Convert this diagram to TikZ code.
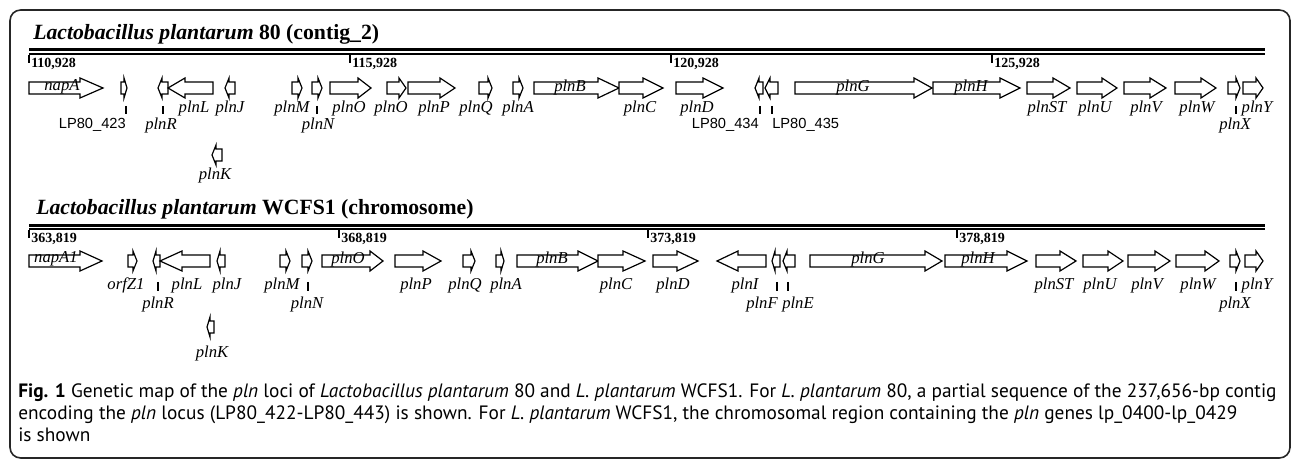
\documentclass[tikz,border=0pt]{standalone}
\usepackage{fontspec}
\setmainfont{Liberation Serif}
\newfontfamily\lpfont{Liberation Sans}
\newfontfamily\capfont{PT Sans}
\usetikzlibrary{positioning}

% gene arrow: tail x, tip x, centre y, head length
\newcommand{\gene}[4]{%
  \pgfmathsetmacro{\hb}{#2-#4*sign(#2-#1)}%
  \draw[genearrow] (#1,#3-6) -- (\hb,#3-6) -- (\hb,#3-10) -- (#2,#3)
    -- (\hb,#3+10) -- (\hb,#3+6) -- (#1,#3+6) -- cycle;}

\begin{document}
\begin{tikzpicture}[x=0.75pt, y=-0.75pt,
  genearrow/.style={draw=black, line width=0.9pt, fill=white, line join=miter},
  lbl/.style={font=\fontsize{12.5}{14}\selectfont\itshape, inner sep=0pt},
  lp/.style={font=\lpfont\fontsize{11}{13}\selectfont, inner sep=0pt},
  coordlbl/.style={font=\fontsize{10.5}{12}\selectfont\bfseries, inner sep=0pt, anchor=west},
  title/.style={font=\fontsize{16.3}{19}\selectfont\bfseries, inner sep=0pt, anchor=base west},
  tick/.style={line width=0.8pt},
  postick/.style={line width=1.3pt},
  track/.style={line width=1.8pt}]
  \useasboundingbox (0,0) rectangle (1295,466);
  \draw[line width=1.2pt, draw=black!85, rounded corners=8pt] (10,10) rectangle (1290,458);

  % Lactobacillus plantarum 80
  \node[title] (title80) at (33,40) {\textit{Lactobacillus plantarum} 80 (contig\_2)};
  \draw[track] (29,49.5) -- (1265,49.5);
  \draw[track] (29,53.8) -- (1265,53.8);
  \foreach \x/\t in {29/110,350/115,671/120,992/125} {
    \draw[postick] (\x,55) -- ++(0,8);
    \node[coordlbl] (p\t) at (\x+2,64) {\t,928};
  }
  \gene{29}{103}{88}{23}
  \gene{121}{127}{88}{3}
  \gene{168}{158}{88}{4}
  \gene{213}{168}{88}{17}
  \gene{235}{225}{88}{4}
  \gene{222}{212}{155}{4}
  \gene{292}{302}{88}{4}
  \gene{312}{322}{88}{4}
  \gene{330}{371}{88}{13}
  \gene{387}{406}{88}{7}
  \gene{408}{455}{88}{15}
  \gene{479}{492}{88}{4}
  \gene{513}{523}{88}{4}
  \gene{534}{619}{88}{21}
  \gene{619}{663}{88}{20}
  \gene{676}{723}{88}{20}
  \gene{763}{755}{88}{4}
  \gene{778}{765}{88}{5}
  \gene{795}{932}{88}{18}
  \gene{933}{1020}{88}{20}
  \gene{1027}{1070}{88}{17}
  \gene{1077}{1117}{88}{15}
  \gene{1124}{1166}{88}{16}
  \gene{1175}{1216}{88}{15}
  \gene{1228}{1240}{88}{4}
  \gene{1243}{1263}{88}{7}
  \foreach \x in {126,163,317,760,772,1236}
    \draw[tick] (\x,106) -- ++(0,8);
  \node[lbl] (napA) at (62,87) {napA};
  \node[lp, anchor=east] (lp423) at (126,125) {LP80\_423};
  \node[lbl] (plnR) at (161,125) {plnR};
  \node[lbl] (plnL) at (194,108) {plnL};
  \node[lbl] (plnJ) at (230,108) {plnJ};
  \node[lbl] (plnK) at (215,175) {plnK};
  \node[lbl] (plnM) at (292,108) {plnM};
  \node[lbl] (plnN) at (318,125) {plnN};
  \node[lbl] (plnO) at (349,108) {plnO};
  \node[lbl] (plnOb) at (391,108) {plnO};
  \node[lbl] (plnP) at (434,108) {plnP};
  \node[lbl] (plnQ) at (476,108) {plnQ};
  \node[lbl] (plnA) at (518,108) {plnA};
  \node[lbl] (plnB) at (570,87) {plnB};
  \node[lbl] (plnC) at (640,108) {plnC};
  \node[lbl] (plnD) at (697,108) {plnD};
  \node[lp, anchor=east] (lp434) at (759,125) {LP80\_434};
  \node[lp, anchor=west] (lp435) at (772,125) {LP80\_435};
  \node[lbl] (plnG) at (853,87) {plnG};
  \node[lbl] (plnH) at (971,87) {plnH};
  \node[lbl] (plnST) at (1047,108) {plnST};
  \node[lbl] (plnU) at (1095,108) {plnU};
  \node[lbl] (plnV) at (1146,108) {plnV};
  \node[lbl] (plnW) at (1197,108) {plnW};
  \node[lbl] (plnX) at (1235,125) {plnX};
  \node[lbl] (plnY) at (1257,108) {plnY};

  % Lactobacillus plantarum WCFS1
  \node[title] (titleWC) at (36,215) {\textit{Lactobacillus plantarum} WCFS1 (chromosome)};
  \draw[track] (29,225.5) -- (1265,225.5);
  \draw[track] (29,229) -- (1265,229);
  \foreach \x/\t in {29/363,339/368,648/373,957/378} {
    \draw[postick] (\x,230) -- ++(0,8);
    \node[coordlbl] (p\t) at (\x+2,239) {\t,819};
  }
  \gene{29}{102}{261}{22}
  \gene{128}{137}{261}{4}
  \gene{160}{153}{261}{3}
  \gene{210}{160}{261}{22}
  \gene{225}{217}{261}{3}
  \gene{214}{207}{327}{3}
  \gene{280}{290}{261}{4}
  \gene{302}{312}{261}{4}
  \gene{322}{383}{261}{13}
  \gene{395}{441}{261}{18}
  \gene{463}{475}{261}{4}
  \gene{496}{504}{261}{3}
  \gene{517}{598}{261}{20}
  \gene{598}{645}{261}{22}
  \gene{653}{698}{261}{21}
  \gene{766}{717}{261}{21}
  \gene{780}{772}{261}{3}
  \gene{795}{783}{261}{4}
  \gene{810}{942}{261}{17}
  \gene{945}{1027}{261}{20}
  \gene{1036}{1076}{261}{16}
  \gene{1083}{1123}{261}{15}
  \gene{1128}{1170}{261}{15}
  \gene{1176}{1219}{261}{14}
  \gene{1230}{1240}{261}{4}
  \gene{1245}{1263}{261}{7}
  \foreach \x in {158,308,777,788,1236}
    \draw[tick] (\x,282) -- ++(0,9);
  \node[lbl] (napAI) at (56,259) {napA1};
  \node[lbl] (orfZI) at (126,285) {orfZ1};
  \node[lbl] (wplnR) at (158,304) {plnR};
  \node[lbl] (wplnL) at (187,285) {plnL};
  \node[lbl] (wplnJ) at (227,285) {plnJ};
  \node[lbl] (wplnK) at (212,353) {plnK};
  \node[lbl] (wplnM) at (282,285) {plnM};
  \node[lbl] (wplnN) at (307,304) {plnN};
  \node[lbl] (wplnO) at (348,259) {plnO};
  \node[lbl] (wplnP) at (416,285) {plnP};
  \node[lbl] (wplnQ) at (465,285) {plnQ};
  \node[lbl] (wplnA) at (506,285) {plnA};
  \node[lbl] (wplnB) at (552,259) {plnB};
  \node[lbl] (wplnC) at (616,285) {plnC};
  \node[lbl] (wplnD) at (673,285) {plnD};
  \node[lbl] (wplnI) at (745,285) {plnI};
  \node[lbl] (wplnF) at (762,304) {plnF};
  \node[lbl] (wplnE) at (798,304) {plnE};
  \node[lbl] (wplnG) at (868,259) {plnG};
  \node[lbl] (wplnH) at (978,259) {plnH};
  \node[lbl] (wplnST) at (1054,285) {plnST};
  \node[lbl] (wplnU) at (1100,285) {plnU};
  \node[lbl] (wplnV) at (1147,285) {plnV};
  \node[lbl] (wplnW) at (1198,285) {plnW};
  \node[lbl] (wplnX) at (1235,304) {plnX};
  \node[lbl] (wplnY) at (1257,285) {plnY};

  % caption
  \node[anchor=base west, align=left, inner sep=0pt,
    font=\capfont\fontsize{14.5}{16.5}\selectfont] (caption) at (18,441)
    {\textbf{Fig. 1} Genetic map of the \textit{pln} loci of \textit{Lactobacillus plantarum} 80 and \textit{L. plantarum} WCFS1. For \textit{L. plantarum} 80, a partial sequence of the 237,656-bp contig\\
     encoding the \textit{pln} locus (LP80\_422-LP80\_443) is shown. For \textit{L. plantarum} WCFS1, the chromosomal region containing the \textit{pln} genes lp\_0400-lp\_0429\\
     is shown};
\end{tikzpicture}
\end{document}
